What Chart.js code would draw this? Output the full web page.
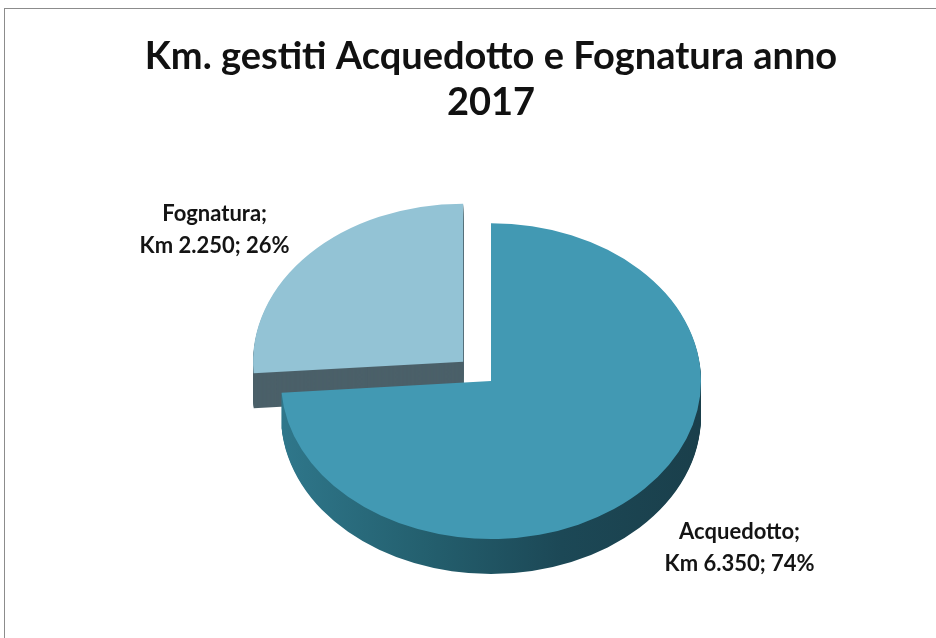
<!DOCTYPE html>
<html>
<head>
<meta charset="utf-8">
<script src="https://cdn.jsdelivr.net/npm/chart.js@4.4.1/dist/chart.umd.min.js"></script>
<style>
    html, body { margin: 0; padding: 0; background: #fff; }
    #wrap { position: relative; width: 936px; height: 638px; overflow: hidden; }
    #frame { position: absolute; left: 4px; top: 8px; width: 980px; height: 680px;
             border-top: 1px solid #8c8c8c; border-left: 1px solid #8c8c8c; }
    #pieChart { position: absolute; left: 0; top: 0; }
</style>
</head>
<body>
<div id="wrap">
    <div id="frame"></div>
    <canvas id="pieChart" width="936" height="638"></canvas>
</div>
<script>
// data
const categories = ['Acquedotto', 'Fognatura'];
const kmValues = [6350, 2250];
const titleLines = ['Km. gestiti Acquedotto e Fognatura anno', '2017'];

const topColors = ['#4299b3', '#93c3d5'];
const sideColors = [['#2f778b', '#24606f', '#1c4856', '#1a3f4b'], ['#4b6069']];
const explode = [0, 152];   // arc offset is divided by 4 when drawn -> ~38px

const tilt = 0.752;   // vertical squash of the pie
const depth = 35;     // thickness of the pie, px

function formatKm(v) {
    return String(v).replace(/\B(?=(\d{3})+(?!\d))/g, '.');
}
const total = kmValues.reduce((a, b) => a + b, 0);

function slicePath(ctx, arc, shiftY) {
    const off = (arc.options.offset || 0) / 4;
    const h = (arc.startAngle + arc.endAngle) / 2;
    const x = arc.x + Math.cos(h) * off;
    const y = arc.y + Math.sin(h) * off + shiftY;
    ctx.beginPath();
    ctx.moveTo(x, y);
    ctx.arc(x, y, arc.outerRadius, arc.startAngle, arc.endAngle);
    ctx.closePath();
}

// squash the pie into an ellipse and extrude a side under each slice
const pie3d = {
    id: 'pie3d',
    beforeDatasetsDraw(chart) {
        const ctx = chart.ctx;
        const arcs = chart.getDatasetMeta(0).data;
        const cx = arcs[0].x, cy = arcs[0].y, r = arcs[0].outerRadius;
        ctx.save();
        ctx.translate(cx, cy);
        ctx.scale(1, tilt);
        ctx.translate(-cx, -cy);
        for (let i = arcs.length - 1; i >= 0; i--) {
            const cols = sideColors[i];
            let fill = cols[0];
            if (cols.length > 1) {
                fill = ctx.createLinearGradient(cx - r, 0, cx + r, 0);
                cols.forEach((c, k) => fill.addColorStop(k / (cols.length - 1), c));
            }
            ctx.fillStyle = fill;
            for (let d = depth; d >= 1; d--) {
                slicePath(ctx, arcs[i], d / tilt);
                ctx.fill();
            }
        }
    },
    afterDatasetsDraw(chart) {
        chart.ctx.restore();
    }
};

// data labels "Name;" / "Km x; y%", placed just outside each slice
const sliceLabels = {
    id: 'sliceLabels',
    afterDatasetsDraw(chart) {
        const ctx = chart.ctx;
        const arcs = chart.getDatasetMeta(0).data;
        ctx.save();
        ctx.font = 'bold 22px Lato';
        ctx.fillStyle = '#141414';
        ctx.textAlign = 'center';
        ctx.textBaseline = 'middle';
        arcs.forEach((arc, i) => {
            const off = (arc.options.offset || 0) / 4;
            const h = (arc.startAngle + arc.endAngle) / 2;
            const c = Math.cos(h), s = Math.sin(h);
            const pct = Math.round(kmValues[i] / total * 100);
            const lines = [categories[i] + ';', 'Km ' + formatKm(kmValues[i]) + '; ' + pct + '%'];
            const w = Math.max(...lines.map(t => ctx.measureText(t).width));
            const edge = arc.x + c * (off + arc.outerRadius + 27);
            const x = c < 0 ? edge - w / 2 : edge + w / 2;
            let y = arc.y + s * ((off + arc.outerRadius) * tilt + 36);
            if (s > 0) y += depth;
            ctx.fillText(lines[0], x, y - 16);
            ctx.fillText(lines[1], x, y + 16);
        });
        ctx.restore();
    }
};

new Chart(document.getElementById('pieChart').getContext('2d'), {
    type: 'pie',
    data: {
        labels: categories,
        datasets: [{
            data: kmValues,
            backgroundColor: topColors,
            borderWidth: 0,
            offset: explode,
            radius: 210,
            clip: false
        }]
    },
    options: {
        responsive: false,
        animation: false,
        events: [],
        layout: { padding: { top: 8, bottom: 12, left: 46, right: 0 } },
        plugins: {
            legend: { display: false },
            tooltip: { enabled: false },
            title: {
                display: true,
                text: titleLines,
                color: '#111',
                font: { family: 'Lato', size: 38, weight: 'bold', lineHeight: 1.2 },
                padding: { top: 26, bottom: 11 }
            }
        }
    },
    plugins: [pie3d, sliceLabels]
});
</script>
</body>
</html>
